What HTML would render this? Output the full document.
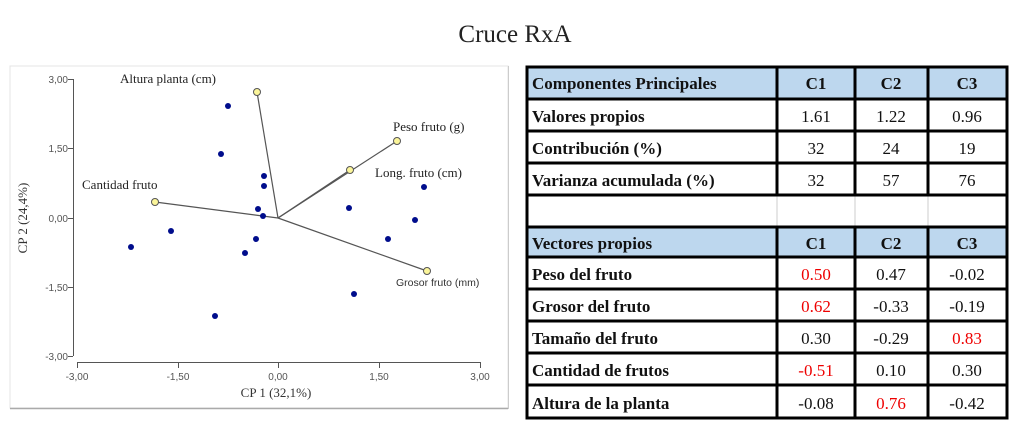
<!DOCTYPE html>
<html><head><meta charset="utf-8"><style>
body{margin:0;background:#fff;width:1024px;height:432px;overflow:hidden}
svg{display:block}
.s{font-family:"Liberation Serif",serif}
.a{font-family:"Liberation Sans",sans-serif}
</style></head><body>
<svg width="1024" height="432" xmlns="http://www.w3.org/2000/svg">
<text x="515" y="42" text-anchor="middle" class="s" font-size="25" fill="#222">Cruce RxA</text>
<!-- chart frame -->
<rect x="10" y="66" width="498" height="342" fill="#fff" stroke="#e4e4e4"/>
<line x1="10" y1="408.5" x2="508" y2="408.5" stroke="#aaa" stroke-width="1.5"/>
<line x1="508.5" y1="66" x2="508.5" y2="409" stroke="#ccc"/>
<!-- axes -->
<g stroke="#555" stroke-width="1" fill="none">
<line x1="73.5" y1="79" x2="73.5" y2="356"/>
<line x1="68" y1="79.5" x2="73" y2="79.5"/><line x1="68" y1="148.5" x2="73" y2="148.5"/>
<line x1="68" y1="218.5" x2="73" y2="218.5"/><line x1="68" y1="287.5" x2="73" y2="287.5"/>
<line x1="68" y1="356.5" x2="73" y2="356.5"/>
<line x1="77" y1="362.5" x2="480" y2="362.5"/>
<line x1="77.5" y1="362" x2="77.5" y2="368"/><line x1="178.5" y1="362" x2="178.5" y2="368"/>
<line x1="278.5" y1="362" x2="278.5" y2="368"/><line x1="379.5" y1="362" x2="379.5" y2="368"/>
<line x1="480.5" y1="362" x2="480.5" y2="368"/>
</g>
<g class="a" font-size="10" fill="#555" text-anchor="end">
<text x="68" y="83">3,00</text><text x="68" y="152">1,50</text><text x="68" y="222">0,00</text>
<text x="68" y="291">-1,50</text><text x="68" y="360">-3,00</text>
</g>
<g class="a" font-size="10" fill="#555" text-anchor="middle">
<text x="77" y="380">-3,00</text><text x="178" y="380">-1,50</text><text x="278" y="380">0,00</text>
<text x="379" y="380">1,50</text><text x="480" y="380">3,00</text>
</g>
<text x="276" y="397" text-anchor="middle" class="s" font-size="13" fill="#333">CP 1 (32,1%)</text>
<text transform="translate(27,218) rotate(-90)" text-anchor="middle" class="s" font-size="13" fill="#333">CP 2 (24,4%)</text>
<!-- vectors -->
<g stroke="#555" stroke-width="1.2">
<line x1="278" y1="218" x2="257" y2="92"/>
<line x1="278" y1="218" x2="397" y2="141"/>
<line x1="278" y1="218" x2="350" y2="170"/>
<line x1="278" y1="218" x2="155" y2="202"/>
<line x1="278" y1="218" x2="427" y2="271"/>
</g>
<g fill="#000d8c">
<circle cx="228" cy="106" r="3"/><circle cx="221" cy="154" r="3"/><circle cx="264" cy="176" r="3"/>
<circle cx="264" cy="186" r="3"/><circle cx="258" cy="209" r="3"/><circle cx="263" cy="216" r="3"/>
<circle cx="131" cy="247" r="3"/><circle cx="171" cy="231" r="3"/><circle cx="256" cy="239" r="3"/>
<circle cx="245" cy="253" r="3"/><circle cx="215" cy="316" r="3"/><circle cx="349" cy="208" r="3"/>
<circle cx="424" cy="187" r="3"/><circle cx="415" cy="220" r="3"/><circle cx="388" cy="239" r="3"/>
<circle cx="354" cy="294" r="3"/>
</g>
<g fill="#fbf59a" stroke="#555" stroke-width="1">
<circle cx="257" cy="92" r="3.5"/><circle cx="397" cy="141" r="3.5"/><circle cx="350" cy="170" r="3.5"/>
<circle cx="155" cy="202" r="3.5"/><circle cx="427" cy="271" r="3.5"/>
</g>
<g class="s" font-size="13" fill="#222">
<text x="120" y="83">Altura planta (cm)</text>
<text x="393" y="131">Peso fruto (g)</text>
<text x="375" y="177">Long. fruto (cm)</text>
<text x="82" y="189">Cantidad fruto</text>
</g>
<text x="396" y="286" class="a" font-size="10.5" fill="#333">Grosor fruto (mm)</text>
<!-- table -->
<rect x="527" y="66" width="480" height="33" fill="#bdd7ee"/>
<rect x="527" y="227" width="480" height="31" fill="#bdd7ee"/>
<g stroke="#ccc" stroke-width="1">
<line x1="777" y1="196" x2="777" y2="227"/><line x1="855" y1="196" x2="855" y2="227"/><line x1="928" y1="196" x2="928" y2="227"/>
</g>
<g stroke="#000" stroke-width="3" fill="none">
<rect x="527" y="67" width="480" height="351"/>
<line x1="527" y1="99" x2="1007" y2="99"/><line x1="527" y1="131" x2="1007" y2="131"/>
<line x1="527" y1="163" x2="1007" y2="163"/><line x1="527" y1="195" x2="1007" y2="195"/>
<line x1="527" y1="227" x2="1007" y2="227"/><line x1="527" y1="257" x2="1007" y2="257"/>
<line x1="527" y1="289" x2="1007" y2="289"/><line x1="527" y1="321" x2="1007" y2="321"/>
<line x1="527" y1="353" x2="1007" y2="353"/><line x1="527" y1="385" x2="1007" y2="385"/>
<line x1="777" y1="67" x2="777" y2="195"/><line x1="855" y1="67" x2="855" y2="195"/><line x1="928" y1="67" x2="928" y2="195"/>
<line x1="777" y1="227" x2="777" y2="418"/><line x1="855" y1="227" x2="855" y2="418"/><line x1="928" y1="227" x2="928" y2="418"/>
</g>
<g class="s" font-size="17" font-weight="bold" fill="#111">
<text x="532" y="89">Componentes Principales</text>
<text x="532" y="122">Valores propios</text>
<text x="532" y="154">Contribución (%)</text>
<text x="532" y="186">Varianza acumulada (%)</text>
<text x="532" y="249">Vectores propios</text>
<text x="532" y="280">Peso del fruto</text>
<text x="532" y="312">Grosor del fruto</text>
<text x="532" y="344">Tamaño del fruto</text>
<text x="532" y="376">Cantidad de frutos</text>
<text x="532" y="409">Altura de la planta</text>
<g text-anchor="middle"><text x="816" y="89">C1</text><text x="891" y="89">C2</text><text x="967" y="89">C3</text>
<text x="816" y="249">C1</text><text x="891" y="249">C2</text><text x="967" y="249">C3</text></g>
</g>
<g class="s" font-size="17" fill="#111" text-anchor="middle">
<text x="816" y="122">1.61</text><text x="891" y="122">1.22</text><text x="967" y="122">0.96</text>
<text x="816" y="154">32</text><text x="891" y="154">24</text><text x="967" y="154">19</text>
<text x="816" y="186">32</text><text x="891" y="186">57</text><text x="967" y="186">76</text>
<text x="816" y="280" fill="#e00">0.50</text><text x="891" y="280">0.47</text><text x="967" y="280">-0.02</text>
<text x="816" y="312" fill="#e00">0.62</text><text x="891" y="312">-0.33</text><text x="967" y="312">-0.19</text>
<text x="816" y="344">0.30</text><text x="891" y="344">-0.29</text><text x="967" y="344" fill="#e00">0.83</text>
<text x="816" y="376" fill="#e00">-0.51</text><text x="891" y="376">0.10</text><text x="967" y="376">0.30</text>
<text x="816" y="409">-0.08</text><text x="891" y="409" fill="#e00">0.76</text><text x="967" y="409">-0.42</text>
</g>
</svg>
</body></html>
